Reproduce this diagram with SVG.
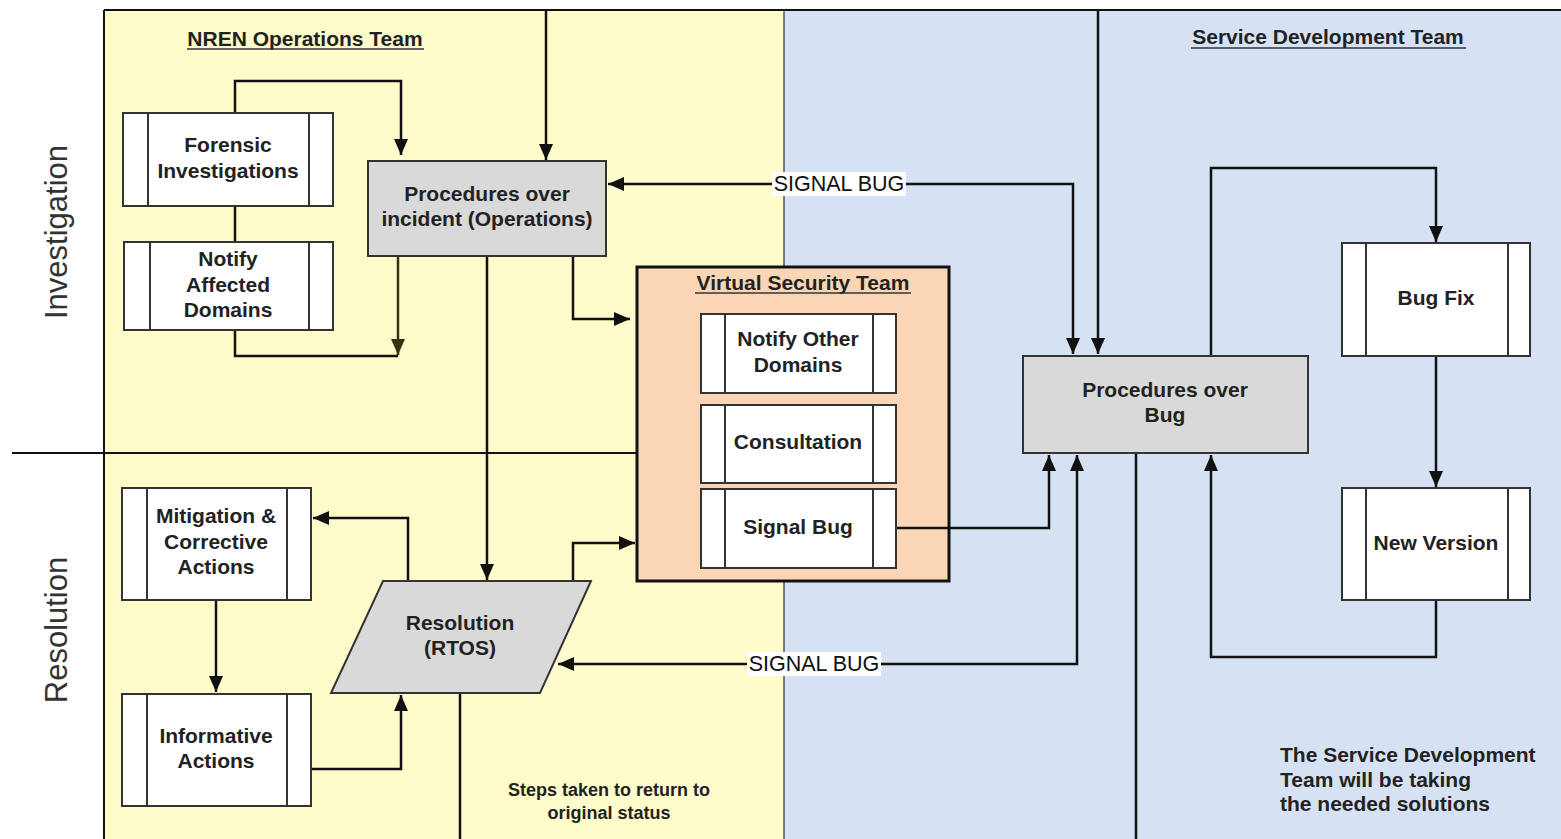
<svg xmlns="http://www.w3.org/2000/svg" width="1561" height="839" viewBox="0 0 1561 839">
<style>
.t{font-family:"Liberation Sans",Arial,sans-serif;font-weight:bold;font-size:21px;fill:#222;text-anchor:middle}
.lane{font-family:"Liberation Sans",Arial,sans-serif;font-size:31px;fill:#333;text-anchor:middle}
.sig{font-family:"Liberation Sans",Arial,sans-serif;font-size:21.5px;fill:#111;text-anchor:middle}
.note{font-family:"Liberation Sans",Arial,sans-serif;font-weight:bold;fill:#222}
.box{fill:#fff;stroke:#333;stroke-width:2}
.gray{fill:#d9d9d9;stroke:#333;stroke-width:2}
.in{stroke:#333;stroke-width:2}
.c{fill:none;stroke:#111;stroke-width:2.5}
.ca{fill:none;stroke:#111;stroke-width:2.5;marker-end:url(#ah)}
</style>
<defs>
<marker id="ah" viewBox="0 0 16 14" refX="16" refY="7" markerWidth="16" markerHeight="14" markerUnits="userSpaceOnUse" orient="auto">
<path d="M0,0 L16,7 L0,14 Z" fill="#111"/>
</marker>
<marker id="ahs" viewBox="0 0 16 14" refX="16" refY="7" markerWidth="16" markerHeight="14" markerUnits="userSpaceOnUse" orient="auto-start-reverse">
<path d="M0,0 L16,7 L0,14 Z" fill="#111"/>
</marker>
<marker id="aho" viewBox="0 0 16 14" refX="16" refY="7" markerWidth="16" markerHeight="14" markerUnits="userSpaceOnUse" orient="auto">
<path d="M0,0 L16,7 L0,14 Z" fill="#333310"/>
</marker>
</defs>
<rect x="0" y="0" width="1561" height="839" fill="#fff"/>
<g id="lanes">
<rect x="104" y="10" width="680" height="829" fill="#fffccc"/>
<rect x="784" y="10" width="777" height="829" fill="#d6e2f3"/>
<line x1="104" y1="10" x2="1561" y2="10" stroke="#111" stroke-width="2"/>
<line x1="104" y1="10" x2="104" y2="839" stroke="#111" stroke-width="2"/>
<line x1="784" y1="10" x2="784" y2="839" stroke="#555" stroke-width="1.5"/>
<line x1="12" y1="453" x2="637" y2="453" stroke="#111" stroke-width="2"/>
<text class="lane" transform="translate(67,232) rotate(-90)">Investigation</text>
<text class="lane" transform="translate(67,630) rotate(-90)">Resolution</text>
<text class="t" x="305" y="46">NREN Operations Team</text>
<line x1="187" y1="49" x2="424" y2="49" stroke="#333" stroke-width="1.5"/>
<text class="t" x="1328" y="44">Service Development Team</text>
<line x1="1191" y1="48" x2="1466" y2="48" stroke="#333" stroke-width="1.5"/>
<text class="note" font-size="18" text-anchor="middle" x="609" y="796">Steps taken to return to</text>
<text class="note" font-size="18" text-anchor="middle" x="609" y="819">original status</text>
<text class="note" font-size="21" x="1280" y="762">The Service Development</text>
<text class="note" font-size="21" x="1280" y="787">Team will be taking</text>
<text class="note" font-size="21" x="1280" y="811">the needed solutions</text>
</g>
<g id="vst">
<rect x="637" y="267" width="312" height="314" fill="#fbd6b6" stroke="#111" stroke-width="3"/>
<text class="t" x="803" y="290">Virtual Security Team</text>
<line x1="695" y1="293" x2="911" y2="293" stroke="#333" stroke-width="1.5"/>
</g>
<g id="connectors">
<polyline class="ca" points="235,113 235,81 401,81 401,155"/>
<line class="c" x1="235" y1="206" x2="235" y2="242"/>
<polyline class="c" points="235,330 235,356 398,356"/>
<line x1="398" y1="256" x2="398" y2="355" fill="none" stroke="#333310" stroke-width="2.5" marker-end="url(#aho)"/>
<line class="ca" x1="546" y1="10" x2="546" y2="160"/>
<polyline fill="none" stroke="#111" stroke-width="2.5" marker-start="url(#ahs)" marker-end="url(#ah)" points="608,184 1073,184 1073,354"/>
<line class="ca" x1="1098" y1="10" x2="1098" y2="354"/>
<line class="ca" x1="487" y1="256" x2="487" y2="580"/>
<polyline class="ca" points="573,256 573,319 630,319"/>
<polyline class="ca" points="408,581 408,518 313,518"/>
<line class="ca" x1="216" y1="600" x2="216" y2="692"/>
<polyline class="ca" points="311,769 401,769 401,695"/>
<polyline class="ca" points="573,581 573,543 635,543"/>
<polyline class="ca" points="896,528 1049,528 1049,455"/>
<polyline fill="none" stroke="#111" stroke-width="2.5" marker-start="url(#ahs)" marker-end="url(#ah)" points="558,664 1077,664 1077,455"/>
<line class="c" x1="1136" y1="453" x2="1136" y2="839"/>
<line class="c" x1="460" y1="693" x2="460" y2="839"/>
<polyline class="ca" points="1211,356 1211,168 1436,168 1436,242"/>
<line class="ca" x1="1436" y1="356" x2="1436" y2="487"/>
<polyline class="ca" points="1436,600 1436,657 1211,657 1211,455"/>
<rect x="772" y="172" width="134" height="24" fill="#fff"/>
<text class="sig" x="839" y="191">SIGNAL BUG</text>
<rect x="747" y="652" width="134" height="24" fill="#fff"/>
<text class="sig" x="814" y="671">SIGNAL BUG</text>
</g>
<g id="forensic">
<rect class="box" x="123" y="113" width="210" height="93"/>
<line class="in" x1="148" y1="113" x2="148" y2="206"/><line class="in" x1="309" y1="113" x2="309" y2="206"/>
<text class="t" x="228" y="152">Forensic</text><text class="t" x="228" y="178">Investigations</text>
</g>
<g id="notify-affected">
<rect class="box" x="124" y="242" width="209" height="88"/>
<line class="in" x1="150" y1="242" x2="150" y2="330"/><line class="in" x1="309" y1="242" x2="309" y2="330"/>
<text class="t" x="228" y="266">Notify</text><text class="t" x="228" y="292">Affected</text><text class="t" x="228" y="317">Domains</text>
</g>
<g id="proc-incident">
<rect class="gray" x="368" y="161" width="238" height="95"/>
<text class="t" x="487" y="201">Procedures over</text><text class="t" x="487" y="226">incident (Operations)</text>
</g>
<g id="notify-other">
<rect class="box" x="701" y="314" width="195" height="79"/>
<line class="in" x1="725" y1="314" x2="725" y2="393"/><line class="in" x1="873" y1="314" x2="873" y2="393"/>
<text class="t" x="798" y="346">Notify Other</text><text class="t" x="798" y="372">Domains</text>
</g>
<g id="consultation">
<rect class="box" x="701" y="405" width="195" height="78"/>
<line class="in" x1="725" y1="405" x2="725" y2="483"/><line class="in" x1="873" y1="405" x2="873" y2="483"/>
<text class="t" x="798" y="449">Consultation</text>
</g>
<g id="signal-bug">
<rect class="box" x="701" y="489" width="195" height="79"/>
<line class="in" x1="725" y1="489" x2="725" y2="568"/><line class="in" x1="873" y1="489" x2="873" y2="568"/>
<text class="t" x="798" y="534">Signal Bug</text>
</g>
<g id="proc-bug">
<rect class="gray" x="1023" y="356" width="285" height="97"/>
<text class="t" x="1165" y="397">Procedures over</text><text class="t" x="1165" y="422">Bug</text>
</g>
<g id="bug-fix">
<rect class="box" x="1342" y="243" width="188" height="113"/>
<line class="in" x1="1366" y1="243" x2="1366" y2="356"/><line class="in" x1="1508" y1="243" x2="1508" y2="356"/>
<text class="t" x="1436" y="305">Bug Fix</text>
</g>
<g id="new-version">
<rect class="box" x="1342" y="488" width="188" height="112"/>
<line class="in" x1="1366" y1="488" x2="1366" y2="600"/><line class="in" x1="1508" y1="488" x2="1508" y2="600"/>
<text class="t" x="1436" y="550">New Version</text>
</g>
<g id="mitigation">
<rect class="box" x="122" y="488" width="189" height="112"/>
<line class="in" x1="147" y1="488" x2="147" y2="600"/><line class="in" x1="287" y1="488" x2="287" y2="600"/>
<text class="t" x="216" y="523">Mitigation &amp;</text><text class="t" x="216" y="549">Corrective</text><text class="t" x="216" y="574">Actions</text>
</g>
<g id="informative">
<rect class="box" x="122" y="694" width="189" height="112"/>
<line class="in" x1="147" y1="694" x2="147" y2="806"/><line class="in" x1="287" y1="694" x2="287" y2="806"/>
<text class="t" x="216" y="743">Informative</text><text class="t" x="216" y="768">Actions</text>
</g>
<g id="resolution">
<polygon class="gray" points="383,581 591,581 540,693 331,693"/>
<text class="t" x="460" y="630">Resolution</text><text class="t" x="460" y="655">(RTOS)</text>
</g>
</svg>
